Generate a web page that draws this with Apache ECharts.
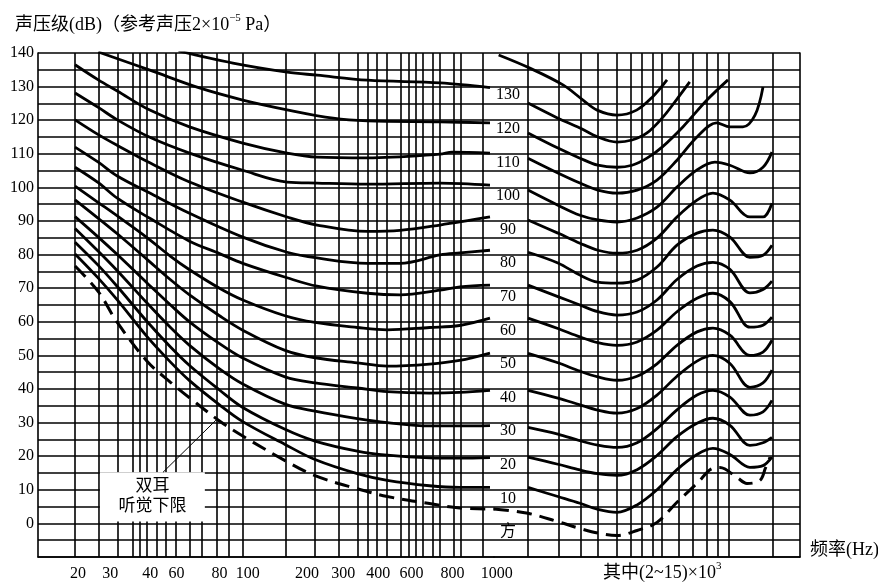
<!DOCTYPE html>
<html>
<head>
<meta charset="utf-8">
<script src="https://cdn.jsdelivr.net/npm/echarts@6/dist/echarts.min.js"></script>
<style>html,body{margin:0;padding:0;background:#fff}#c{width:878px;height:585px}</style>
</head>
<body>
<div id="c"></div>
<script>
// ---------- data: [frequency Hz, sound pressure level dB] ----------
// left section (20 Hz .. 1 kHz)
const L130 = [[54,140.6],[91,137],[153,134.3],[204,133.4],[331,131.9],[664,131.1],[1072,129.7]];
const L120 = [[25,140.3],[41,134.9],[66,129.6],[100,126],[153,123.1],[238,120.6],[331,119.8],[664,119.5],[1072,119.2]];
const L110 = [[20,136.5],[25,132],[30,128.7],[41,123],[60,118],[100,113.2],[153,110.2],[204,109],[331,108.8],[664,109.9],[745,110.5],[1072,110.2]];
const L100 = [[20,128.1],[25,123.8],[30,120.1],[41,114.9],[60,110.2],[100,105.1],[153,101.6],[204,101.3],[331,101],[664,101.3],[1072,100.7]];
const L90  = [[20,120.1],[25,115.7],[30,112.5],[41,107.3],[60,101.6],[100,95.6],[153,91.2],[204,88.8],[331,86.9],[452,87.2],[664,88.8],[1072,91.2]];
const L80  = [[20,112],[25,107.5],[30,103.4],[41,98.3],[60,92.3],[100,85.2],[153,80.7],[204,79],[331,77.4],[452,77.4],[664,79.9],[804,80.5],[1072,81.3]];
const L70  = [[20,106],[25,101.4],[30,96.8],[41,90.8],[60,84],[80,80.3],[100,77.4],[153,73.1],[204,70.6],[331,68.5],[452,68],[664,69.4],[804,70.4],[1072,70.9]];
const L60  = [[20,100.4],[25,95.5],[30,91.5],[40,85],[50,79.5],[60,75.5],[80,70],[100,66.5],[150,61.8],[200,59.8],[300,58.3],[400,57.6],[600,58.3],[800,58.9],[1072,61.1]];
const L50  = [[20,96.3],[25,90.8],[30,86.2],[40,78.5],[50,72.5],[60,68],[80,61.8],[100,57.5],[150,51.5],[200,49.3],[300,47.8],[400,46.8],[600,47.4],[800,48.5],[1072,50.7]];
const L40  = [[20,91.3],[25,85.2],[30,80],[40,71.5],[50,65],[60,60],[80,53.5],[100,49.2],[150,43.6],[200,41.8],[300,40.3],[400,39.2],[600,38.8],[800,39],[1072,39.6]];
const L30  = [[20,87.8],[25,81],[30,75.2],[40,65.5],[50,58.3],[60,53],[80,46],[100,41.5],[150,35.5],[200,33.4],[300,31.2],[400,30],[600,29],[800,29],[1072,29.1]];
const L20  = [[20,83.7],[25,76.8],[30,70.5],[40,60],[50,52.5],[60,47],[80,39.7],[100,34.5],[150,28],[200,24.5],[300,21.5],[400,20.3],[600,19.5],[800,19.4],[1072,19.6]];
const L10  = [[20,80.2],[25,73],[30,66.5],[40,55.5],[50,48],[60,42.5],[80,35.3],[100,30.3],[150,23.5],[200,19],[300,14.8],[400,12.8],[600,11.2],[800,10.7],[1072,10.7]];
const THR_L = [[20,76.6],[25,69],[30,59.8],[40,48.2],[50,42],[60,37.4],[80,30.5],[100,26],[150,18.7],[200,14.2],[300,10.3],[400,8],[600,5.9],[800,4.6],[1120,4.3]];

// right section (2 kHz .. 15 kHz)
const R140 = [[1570,139.4],[2030,135.5],[2670,130.5],[3150,126],[3540,123],[4170,121.5],[4900,123],[5600,127],[6300,132]];
const R130 = [[2000,125.1],[2560,120.6],[3070,117.7],[3560,115],[4170,113.5],[4720,114.1],[5340,116.2],[6090,120.9],[6800,126],[7600,131.4]];
const R120 = [[2000,116.2],[2560,111.7],[3070,108.7],[3560,106.6],[4170,106],[4720,106.6],[5340,108.7],[6050,112],[7180,118],[8760,126],[10420,132]];
const R110 = [[2000,108.7],[2560,104.3],[3070,101.3],[3560,99.2],[4170,98.3],[4920,99.2],[5800,102.2],[6840,108.1],[8070,115],[9480,119.2],[10590,118],[11790,118],[13020,121.5],[13910,129.9]];
const R100 = [[2000,99.2],[2560,94.7],[3070,91.7],[3560,90.3],[4170,89.7],[4920,90.9],[5800,94.1],[6840,100.1],[8070,105.2],[9360,107.5],[10590,106.6],[12490,104.3],[13910,106],[14980,110.5]];
const R90  = [[2000,90.3],[2560,86.4],[3070,83.4],[3560,81.3],[4170,80.4],[4920,81.3],[5800,84.9],[6840,91.2],[8070,96.2],[9200,98.3],[10590,96.2],[12490,91.2],[13910,91.2],[14980,95.3]];
const R80  = [[2000,80.7],[2560,77.5],[3070,73.9],[3560,71.8],[4170,71.5],[4920,72.4],[5800,76.3],[6840,82.8],[8070,86.4],[9200,87.3],[10590,85.2],[12490,79.2],[13910,79.8],[14980,82.8]];
const R70  = [[2000,70.9],[2560,67.5],[3070,65],[3560,63],[4170,62],[4920,62.9],[5800,66.5],[6840,72.6],[8070,76.6],[9200,77.7],[10590,75.6],[12490,68.6],[13910,69.6],[14980,72.1]];
const R60  = [[2000,61.1],[2560,58],[3070,55.5],[3560,53.8],[4170,53],[4920,54],[5800,57.5],[6840,63],[8070,67],[9200,68.5],[10590,66],[12490,58.4],[13910,59],[14980,61.4]];
const R50  = [[2000,50.6],[2560,47.8],[3070,45.3],[3560,43.6],[4170,42.6],[4920,43.8],[5800,47.5],[6840,53],[8070,57],[9200,58.1],[10590,56],[12490,50],[13910,51],[14980,54.5]];
const R40  = [[2000,39.6],[2560,37.3],[3070,35.3],[3560,33.7],[4170,32.8],[4920,34.2],[5800,38.2],[6840,43.8],[8070,48.3],[9200,50],[10590,47.6],[12490,40.5],[13910,41.8],[14980,45.6]];
const R30  = [[2000,28.6],[2560,26.6],[3070,24.6],[3560,23.3],[4170,22.6],[4920,24],[5800,28.2],[6840,33.8],[8070,38.2],[9200,39.6],[10590,37.6],[12490,32.2],[13910,33.2],[14980,36.6]];
const R20  = [[2000,19.7],[2560,17.6],[3070,15.9],[3560,14.8],[4170,14.3],[4920,16],[5800,20.2],[6840,25.8],[8070,29.8],[9200,31.3],[10590,29.2],[12490,23.2],[13910,24],[14980,25.6]];
const R10  = [[2000,10.7],[2560,8],[3070,6],[3560,4.2],[4170,3.3],[4920,5.5],[5800,10],[6840,16],[8070,20.5],[9200,22.3],[10590,20.5],[12490,16.7],[13910,17.2],[14980,19.7]];
const THR_R = [[1511,4.3],[2000,3],[2560,0.5],[3070,-1.5],[3620,-3],[4170,-3.6],[4920,-2.1],[5800,0.3],[6840,6.3],[8070,11.9],[9200,16.4],[9750,16.6],[11220,13.7],[12190,11.9],[13570,12.8],[14200,16.5],[14740,19.7]];

// curve labels (phon) and axis ticks
const PHON_LEVELS = [130,120,110,100,90,80,70,60,50,40,30,20,10];
const PHON_UNIT = '方';
const X_TICKS_LEFT = [20,30,40,60,80,100,200,300,400,600,800,1000];
const Y_TICK_STEP = 5;
const Y_LABEL_STEP = 10;
const GRID_FREQ_LEFT = [20,25,30,35,37.5,40,44,48,53,60,68,78,88,100,150,200,250,300,330,360,400,460,490,520,560,610,660,750,820,1000];
const GRID_FREQ_RIGHT = [2000,2560,3070,3560,4170,4720,5170,5560,6020,6840,7800,8610,9500,10400,15000];

// ---------- styling ----------
const FONT = "'Liberation Serif', 'Noto Sans CJK SC', serif";
const BLACK = '#000';
// horizontal nudges (px) of printed x tick labels, as typeset in the original figure
const LABEL_NUDGE = {20:3, 30:-7, 40:3, 60:-13, 80:0, 100:5, 200:-8, 300:-14, 400:-9, 600:-18, 800:-7, 1000:14};

const lg = Math.log10;

function curve(pts, gi, dashed) {
  return {
    type: 'line', xAxisIndex: gi, yAxisIndex: gi,
    data: pts.map(p => [lg(p[0]), p[1]]),
    smooth: 0.35, symbol: 'none', silent: true, z: 2, clip: true,
    lineStyle: { color: BLACK, width: dashed ? 3 : 2.8, type: dashed ? [15, 8] : 'solid' }
  };
}

const series = [];
[L130,L120,L110,L100,L90,L80,L70,L60,L50,L40,L30,L20,L10].forEach(c => series.push(curve(c, 0, false)));
series.push(curve(THR_L, 0, true));
[R140,R130,R120,R110,R100,R90,R80,R70,R60,R50,R40,R30,R20,R10].forEach(c => series.push(curve(c, 1, false)));
series.push(curve(THR_R, 1, true));

const gridLineStyle = { color: BLACK, width: 1.6, type: 'solid' };
function gridLines(freqs, gi) {
  return {
    type: 'line', xAxisIndex: gi, yAxisIndex: gi, data: [], silent: true,
    markLine: {
      silent: true, z: 1, symbol: ['none', 'none'], animation: false,
      label: { show: false }, emphasis: { disabled: true },
      lineStyle: gridLineStyle,
      data: freqs.map(f => ({ xAxis: lg(f) }))
    }
  };
}
series.push(gridLines(GRID_FREQ_LEFT, 0));
series.push(gridLines(GRID_FREQ_RIGHT, 1));

// annotation "双耳 听觉下限"
series.push({
  type: 'line', xAxisIndex: 0, yAxisIndex: 0, data: [], silent: true,
  markArea: {
    silent: true, z: 3,
    itemStyle: { color: '#fff' },
    label: { show: true, position: 'inside', formatter: '双耳\n听觉下限', color: BLACK,
             fontSize: 17, lineHeight: 20, fontFamily: FONT, textBorderWidth: 0 },
    emphasis: { disabled: true },
    data: [[{ coord: [lg(25.4), 0.6] }, { coord: [lg(69.5), 15.2] }]]
  },
  markLine: {
    silent: true, z: 4, symbol: ['none', 'none'], animation: false,
    label: { show: false }, emphasis: { disabled: true },
    lineStyle: { color: BLACK, width: 1, type: 'solid' },
    data: [[{ coord: [lg(46.5), 15.2] }, { coord: [lg(78.8), 31.3] }]]
  }
});

// phon labels in the gap column
series.push({
  type: 'scatter', xAxisIndex: 1, yAxisIndex: 1, silent: true, z: 5,
  symbolSize: 1, itemStyle: { color: 'rgba(0,0,0,0)', opacity: 1 },
  data: PHON_LEVELS.map(v => [lg(1696), v, String(v)]).concat([[lg(1696), 0, PHON_UNIT]]),
  label: { show: true, position: 'inside', offset: [0, 8.5], color: BLACK, fontSize: 16,
           textBorderWidth: 0, textBorderColor: 'transparent', textShadowBlur: 0, opacity: 1,
           fontFamily: FONT, formatter: p => p.value[2] }
});

// x tick label rich styles (nudges)
const xRich = {};
Object.keys(LABEL_NUDGE).forEach(k => {
  const d = LABEL_NUDGE[k];
  xRich['n' + k] = { fontSize: 16, fontFamily: FONT, color: BLACK,
                     padding: d >= 0 ? [0, 0, 0, 2 * d] : [0, -2 * d, 0, 0] };
});

const yAxisBase = {
  type: 'value', min: -10, max: 140, interval: Y_TICK_STEP,
  axisTick: { show: false },
  splitLine: { show: true, lineStyle: gridLineStyle },
  axisLine: { show: true, lineStyle: { color: BLACK, width: 1.6 } }
};

const txt = { fontFamily: FONT, fontSize: 18, fontWeight: 'normal', color: BLACK };
const supStyle = { fontFamily: FONT, fontSize: 11, color: BLACK, padding: [0, 0, 14, 0] };

const option = {
  animation: false,
  backgroundColor: '#fff',
  title: [
    { text: '声压级(dB)（参考声压2×10{sup|−5} Pa）', left: 10, top: 8,
      textStyle: Object.assign({}, txt, { rich: { sup: supStyle } }) },
    { text: '频率(Hz)', left: 805, top: 536, textStyle: txt },
    { text: '其中(2~15)×10{sup|3}', left: 598, top: 556,
      textStyle: Object.assign({}, txt, { rich: { sup: supStyle } }) }
  ],
  grid: [
    { left: 38, top: 53, width: 456, bottom: 28, outerBoundsMode: 'none' },
    { left: 494, top: 53, right: 78, bottom: 28, outerBoundsMode: 'none' }
  ],
  xAxis: [
    { type: 'value', gridIndex: 0, min: lg(14.02), max: lg(1114),
      splitLine: { show: false }, axisTick: { show: false },
      axisLine: { show: true, onZero: false, lineStyle: { color: BLACK, width: 1.6 } },
      axisLabel: { customValues: X_TICKS_LEFT.map(lg), hideOverlap: false,
                   formatter: v => { const f = Math.round(Math.pow(10, v)); return LABEL_NUDGE[f] ? '{n' + f + '|' + f + '}' : String(f); },
                   rich: xRich, color: BLACK, fontSize: 16, fontFamily: FONT, margin: 9 } },
    { type: 'value', gridIndex: 1, min: lg(1511), max: lg(18878),
      splitLine: { show: false }, axisTick: { show: false },
      axisLine: { show: true, onZero: false, lineStyle: { color: BLACK, width: 1.6 } },
      axisLabel: { show: false } }
  ],
  yAxis: [
    Object.assign({}, yAxisBase, { gridIndex: 0, position: 'left',
      axisLabel: { color: BLACK, fontSize: 16, fontFamily: FONT, margin: 4,
                   formatter: v => (v >= 0 && v % Y_LABEL_STEP === 0) ? String(v) : '' } }),
    Object.assign({}, yAxisBase, { gridIndex: 1, position: 'right', axisLabel: { show: false } })
  ],
  series: series
};

echarts.init(document.getElementById('c'), null, { renderer: 'canvas' }).setOption(option);
</script>
</body>
</html>
